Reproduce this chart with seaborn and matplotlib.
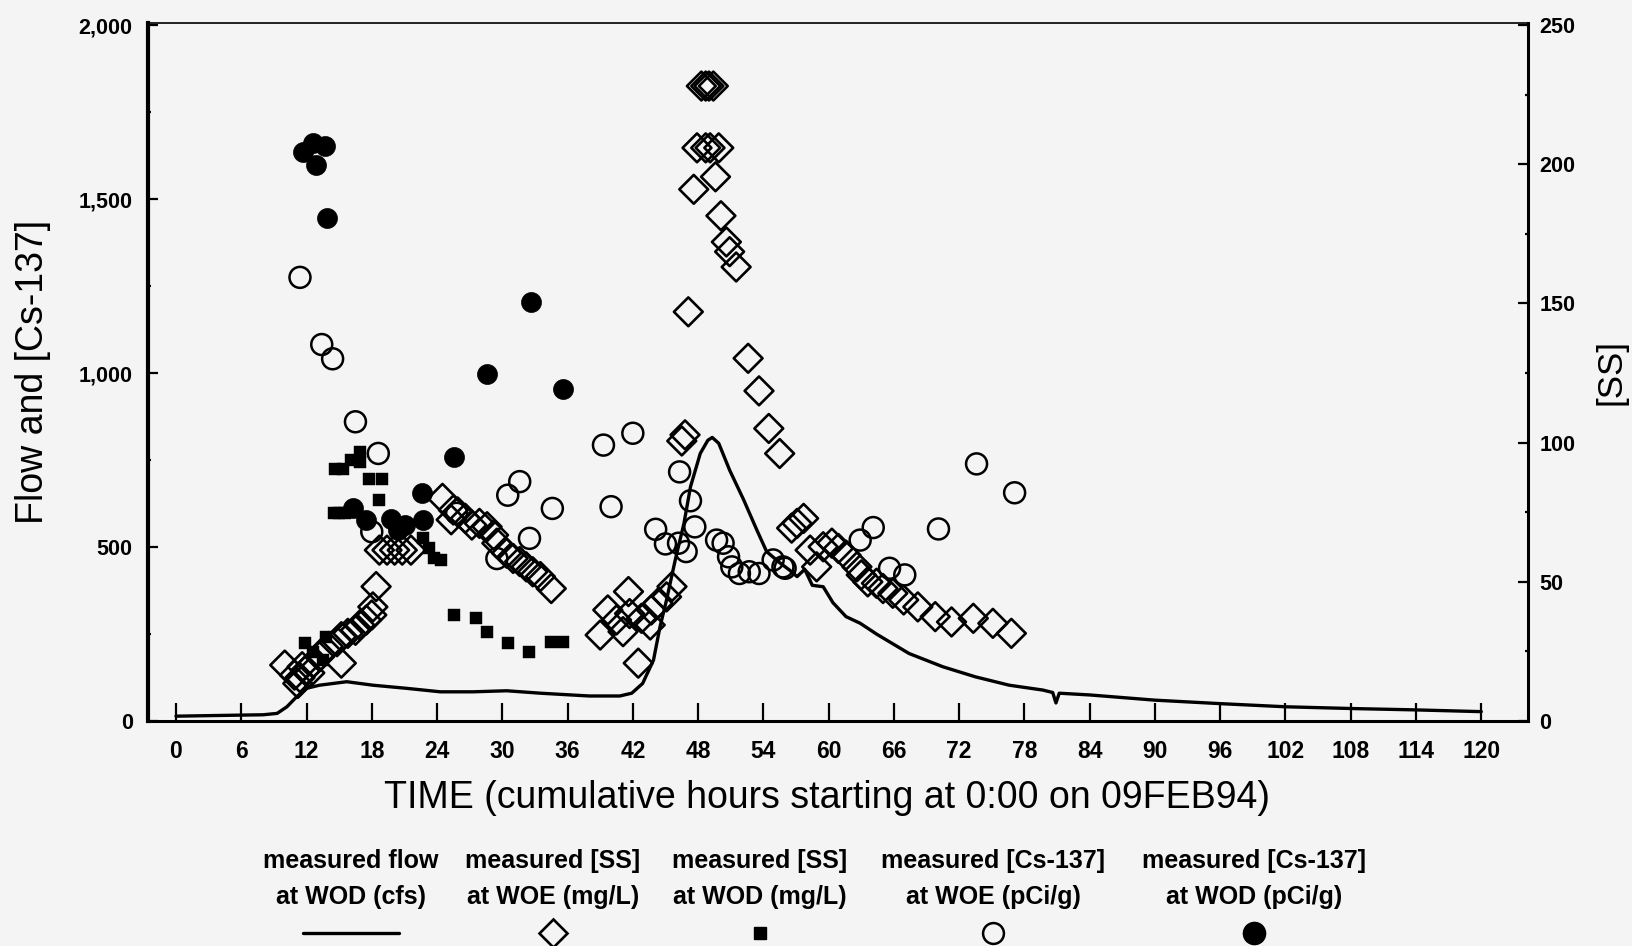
import matplotlib
matplotlib.use("Agg")
import matplotlib.pyplot as plt
from matplotlib.lines import Line2D
from matplotlib import font_manager
import seaborn as sns

# measured flow at WOD (cfs) - left axis
flow_hours = [0, 5.9, 8, 9.3, 10.2, 11.1, 12.0, 13.2, 15.7, 18.1, 21.2, 24.3, 27.3, 30.4,
              33.5, 38.0, 40.8, 41.9, 42.9, 43.9, 44.5, 45.1, 45.9, 46.7, 47.3, 48.2, 48.9,
              49.3, 49.9, 50.9, 52.2, 53.4, 54.3, 55.5, 56.4, 57.1, 57.8, 58.5, 59.5, 60.4,
              61.6, 62.9, 64.4, 67.4, 70.5, 73.5, 76.6, 79.7, 80.6, 80.9, 81.2, 84, 90, 96,
              102, 108, 114, 120]
flow_cfs = [14, 17, 18, 22, 41, 70, 94, 103, 113, 103, 94, 84, 84, 87,
            80, 72, 72, 80, 108, 175, 271, 348, 463, 568, 673, 769, 807,
            815, 798, 721, 635, 549, 487, 455, 434, 415, 436, 390, 386, 340,
            300, 281, 250, 194, 156, 127, 103, 89, 82, 52, 80, 75, 60, 50,
            41, 36, 32, 27]

# measured [SS] at WOE (mg/L) - right axis
ss_woe_hours = [10.0, 10.9, 11.2, 11.4, 11.6, 11.9, 12.3, 12.6, 13.2, 14.0, 14.8, 15.2, 15.2,
                15.8, 16.5, 16.9, 17.5, 18.0, 18.1, 18.4,
                18.7, 19.4, 20.1, 20.8, 21.6,
                24.5, 25.3, 25.5, 25.9, 26.6, 27.2, 27.9, 28.6, 29.2, 29.5, 30.4, 31.0, 31.6,
                32.2, 32.8, 33.5, 34.5,
                39.0, 39.7, 40.5, 41.1, 41.6, 41.7, 42.5, 42.8, 43.6, 43.7, 44.3, 45.1, 45.6,
                46.5, 46.8, 47.1, 47.6, 47.9, 48.3, 48.7, 48.7, 49.0, 49.1, 49.4, 49.6, 49.9,
                50.1, 50.6, 50.9, 51.5, 52.6, 53.6, 54.5, 55.5,
                56.6, 57.1, 57.7, 58.3, 58.9, 59.5, 60.3, 60.9, 61.6, 62.6, 63.0, 63.6, 64.4,
                65.0, 65.9, 66.9, 68.2, 69.8, 71.3, 73.3, 75.1, 76.8]
ss_woe = [20.1, 16.5, 13.5, 15.6, 19.5, 18.1, 17.3, 20.8, 23.1, 26.8, 28.5, 20.8, 30.3,
          31.5, 32.6, 34.5, 36.3, 38.1, 41.0, 48.3,
          61.4, 61.4, 61.4, 61.4, 61.4,
          80.0, 72.3, 75.8, 75.1, 72.8, 70.4, 71.0, 69.8, 66.8, 63.9, 60.3, 58.4, 57.3,
          55.4, 53.6, 51.9, 47.6,
          30.9, 39.9, 36.3, 32.1, 46.5, 38.6, 20.8, 36.9, 34.5, 39.9, 42.3, 44.6, 48.3,
          100.6, 102.8, 147.0, 191.0, 205.9, 228.1, 228.1, 205.9, 228.1, 205.9, 228.1, 195.5, 205.9,
          181.5, 172.1, 168.6, 163.1, 130.3, 118.6, 105.1, 96.1,
          69.3, 71.0, 72.8, 61.4, 55.4, 62.6, 63.9, 62.0, 59.6, 55.4, 52.5, 50.0, 49.5,
          47.6, 45.9, 43.5, 41.0, 37.5, 35.6, 36.9, 35.1, 31.5]

# measured [SS] at WOD (mg/L) - right axis
ss_wod_hours = [11.9, 12.6, 13.5, 13.8, 14.5, 15.0, 15.5, 14.6, 15.4, 16.1, 16.9, 16.9, 17.7,
                18.7, 18.9, 22.7, 23.3, 23.7, 24.4, 25.6, 27.6, 28.6, 30.5, 32.5, 34.5, 35.6]
ss_wod = [27.9, 24.9, 21.9, 30.3, 74.6, 74.6, 74.6, 90.4, 90.4, 93.8, 96.8, 93.1, 86.9,
          79.4, 86.9, 65.6, 62.0, 58.4, 57.8, 38.1, 36.9, 32.1, 27.9, 24.9, 28.5, 28.5]

# measured [Cs-137] at WOE (pCi/g) - left axis
cs_woe_hours = [11.4, 13.4, 14.4, 16.5, 18.0, 18.6, 25.8, 29.5, 30.5, 31.6, 32.5, 34.6,
                39.3, 40.0, 42.0, 44.1, 45.0, 46.2, 46.3, 46.9, 47.3, 47.7, 49.7, 50.3,
                50.8, 51.1, 51.8, 52.7, 53.6, 54.9, 55.8, 56.0, 62.9, 64.1, 65.6, 67.0,
                70.1, 73.6, 77.1]
cs_woe = [1275, 1082, 1041, 860, 544, 769, 597, 467, 649, 688, 525, 611,
          793, 616, 827, 551, 509, 511, 716, 487, 633, 558, 520, 511,
          472, 443, 424, 429, 424, 463, 443, 439, 520, 556, 439, 420,
          552, 739, 656]

# measured [Cs-137] at WOD (pCi/g) - left axis
cs_wod_hours = [11.7, 12.6, 12.9, 13.7, 13.9, 16.3, 17.5, 19.8, 20.4, 21.1, 22.6, 22.7,
                25.6, 28.6, 32.6, 35.6]
cs_wod = [1636, 1660, 1598, 1652, 1445, 611, 578, 582, 549, 563, 654, 578,
          759, 997, 1205, 953]

legend_lines = [("measured flow", "at WOD (cfs)"),
                ("measured [SS]", "at WOE (mg/L)"),
                ("measured [SS]", "at WOD (mg/L)"),
                ("measured [Cs-137]", "at WOE (pCi/g)"),
                ("measured [Cs-137]", "at WOD (pCi/g)")]

sns.set_style("ticks")
names = {f.name for f in font_manager.fontManager.ttflist}
narrow = "Liberation Sans Narrow" in names
cond = "Liberation Sans Narrow" if narrow else "Liberation Sans"
plt.rcParams["font.family"] = ["Liberation Sans", "DejaVu Sans"]
plt.rcParams["text.color"] = "black"
plt.rcParams["axes.labelcolor"] = "black"
plt.rcParams["xtick.color"] = "black"
plt.rcParams["ytick.color"] = "black"
bg = "#f4f4f4"

fig = plt.figure(figsize=(16.32, 9.46), dpi=100, facecolor=bg)
ax = fig.add_axes([0.0907, 0.2378, 0.8456, 0.7379], facecolor=bg)

sns.lineplot(x=flow_hours, y=flow_cfs, ax=ax, color="black", lw=2.4, estimator=None)
sns.scatterplot(x=cs_woe_hours, y=cs_woe, ax=ax, marker="o", s=228,
                facecolors="none", edgecolor="black", linewidth=1.8, zorder=3)
sns.scatterplot(x=cs_wod_hours, y=cs_wod, ax=ax, marker="o", s=207,
                color="black", edgecolor="black", linewidth=0.5, zorder=3)

ax2 = ax.twinx()
sns.scatterplot(x=ss_woe_hours, y=ss_woe, ax=ax2, marker="D", s=215,
                facecolors="none", edgecolor="black", linewidth=1.9, zorder=3)
sns.scatterplot(x=ss_wod_hours, y=ss_wod, ax=ax2, marker="s", s=63,
                color="black", edgecolor="black", linewidth=0.3, zorder=3)

ax.set_xlim(-2.57, 124.3)
ax.set_ylim(0, 2006)
ax2.set_ylim(0, 2006 / 8)

ytick_font = dict(family=cond, weight="bold", size=17 if narrow else 15.5)
xtick_font = dict(family=cond, weight="bold", size=18 if narrow else 16.5)
ax.set_xticks(range(0, 121, 6))
ax.set_xticklabels([str(v) for v in range(0, 121, 6)], **xtick_font)
ax.set_yticks([0, 500, 1000, 1500, 2000])
ax.set_yticklabels(["0", "500", "1,000", "1,500", "2,000"], **ytick_font)
ax.set_yticks([250, 750, 1250, 1750], minor=True)
ax2.set_yticks([0, 50, 100, 150, 200, 250])
ax2.set_yticklabels(["0", "50", "100", "150", "200", "250"], **ytick_font)
ax2.set_yticks([25, 75, 125, 175, 225], minor=True)

ax.tick_params(axis="x", direction="in", length=13, width=1.6, pad=14)
ax.tick_params(axis="y", which="major", direction="in", length=7, width=1.6, pad=11)
ax.tick_params(axis="y", which="minor", direction="in", length=2, width=1.6)
ax2.tick_params(axis="y", which="major", direction="in", length=7, width=1.6, pad=8)
ax2.tick_params(axis="y", which="minor", direction="in", length=2, width=1.6)

for s in ["left", "right", "top", "bottom"]:
    ax.spines[s].set_color("black")
ax.spines["left"].set_linewidth(3)
ax.spines["bottom"].set_linewidth(2.2)
ax.spines["top"].set_linewidth(1.2)
ax.spines["right"].set_visible(False)
for s in ["left", "top", "bottom"]:
    ax2.spines[s].set_visible(False)
ax2.spines["right"].set_linewidth(2.2)
ax2.spines["right"].set_color("black")

label_font = dict(family="Liberation Sans", size=27)
ax.set_xlabel("TIME (cumulative hours starting at 0:00 on 09FEB94)", labelpad=14, **label_font)
ax.xaxis.set_label_coords(0.492, -0.085)
ax.set_ylabel("Flow and [Cs-137]", labelpad=20, **label_font)
ax2.set_ylabel("[SS]", labelpad=14, family="Liberation Sans", size=25)

# legend below the chart: two text lines and a sample under each column
leg_font = dict(family=cond, weight="bold", size=21 if narrow else 18)
col_x = [351, 553, 760, 993, 1254]
W, H = 1632, 946
for (l1, l2), cx in zip(legend_lines, col_x):
    fig.text(cx / W, 1 - 861 / H, l1, ha="center", va="center", **leg_font)
    fig.text(cx / W, 1 - 897 / H, l2, ha="center", va="center", **leg_font)
my = 1 - 933 / H
fig.add_artist(Line2D([303 / W, 399 / W], [my, my], color="black", lw=2.4))
fig.add_artist(Line2D([col_x[1] / W], [my], marker="D", ms=14.5, mfc="none", mec="black", mew=1.9))
fig.add_artist(Line2D([col_x[2] / W], [my], marker="s", ms=8.5, color="black"))
fig.add_artist(Line2D([col_x[3] / W], [my], marker="o", ms=15, mfc="none", mec="black", mew=1.8))
fig.add_artist(Line2D([col_x[4] / W], [my], marker="o", ms=16, color="black"))

fig.savefig("out.png", dpi=100, facecolor=bg)
